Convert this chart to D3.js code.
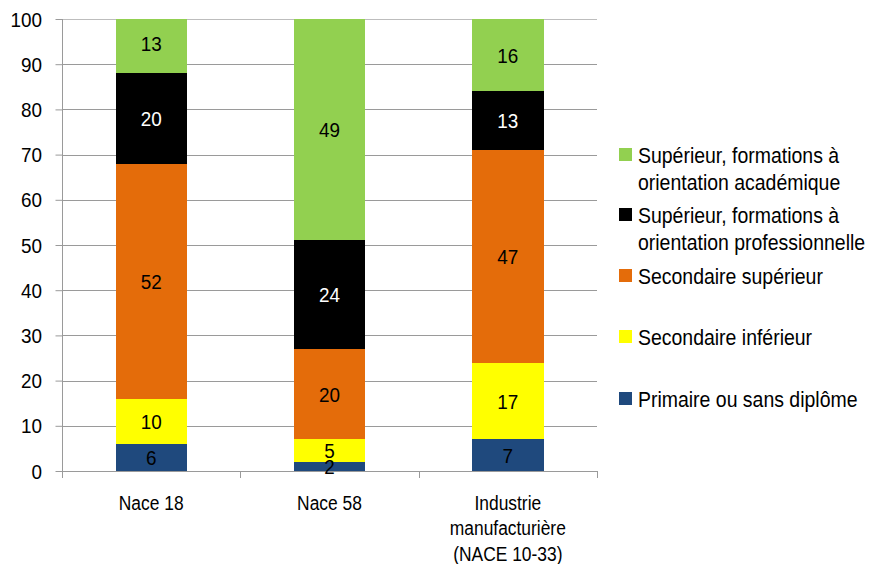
<!DOCTYPE html>
<html>
<head>
<meta charset="utf-8">
<script src="https://cdn.jsdelivr.net/npm/d3@7"></script>
<style>
  html, body { margin: 0; padding: 0; background: #fff; }
  svg text { font-family: "Liberation Sans Narrow", "Arial Narrow", "Liberation Sans", Arial, sans-serif; }
</style>
</head>
<body>
<svg id="chart" width="870" height="564"></svg>
<script>
// Categories (the long one wraps over three lines)
const categories = ["Nace 18", "Nace 58", "Industrie manufacturière (NACE 10-33)"];
const categoryLines = [["Nace 18"], ["Nace 58"], ["Industrie", "manufacturière", "(NACE 10-33)"]];

// Series, stacked from bottom to top
const seriesNames = [
  "Primaire ou sans diplôme",
  "Secondaire inférieur",
  "Secondaire supérieur",
  "Supérieur, formations à orientation professionnelle",
  "Supérieur, formations à orientation académique"
];
const primaire      = [6, 2, 7];
const secInferieur  = [10, 5, 17];
const secSuperieur  = [52, 20, 47];
const supPro        = [20, 24, 13];
const supAcad       = [13, 49, 16];
const seriesValues = [primaire, secInferieur, secSuperieur, supPro, supAcad];

const seriesColors = ["#1F497D", "#FFFF00", "#E46C0A", "#000000", "#92D050"];
const labelColors  = ["#000", "#000", "#000", "#fff", "#000"];

const yTicks = [0, 10, 20, 30, 40, 50, 60, 70, 80, 90, 100];

// Legend entries, top to bottom
const legendLines = [
  ["Supérieur, formations à", "orientation académique"],
  ["Supérieur, formations à", "orientation professionnelle"],
  ["Secondaire supérieur"],
  ["Secondaire inférieur"],
  ["Primaire ou sans diplôme"]
];
const legendSeries = [4, 3, 2, 1, 0];

const svg = d3.select("#chart");
const plot = { left: 62, right: 597, top: 19, bottom: 471 };
const GRID = "#9a9a9a";

// Condensed text: regular sans squeezed horizontally around its anchor point
function narrowText(parent, px, py, size, sx, anchor, color) {
  return parent.append("text")
    .attr("transform", `translate(${px},${py}) scale(${sx},1)`)
    .attr("x", 0).attr("y", 0)
    .attr("font-size", size)
    .attr("text-anchor", anchor)
    .attr("fill", color);
}

const x = d3.scaleBand()
  .domain(categories)
  .range([plot.left, plot.right])
  .paddingInner(0.6)
  .paddingOuter(0.3);

const y = d3.scaleLinear().domain([0, 100]).range([plot.bottom, plot.top]);

// Horizontal gridlines
svg.append("g")
  .selectAll("line")
  .data(yTicks.filter(d => d > 0))
  .join("line")
  .attr("x1", plot.left).attr("x2", plot.right)
  .attr("y1", d => Math.round(y(d)) + 0.5).attr("y2", d => Math.round(y(d)) + 0.5)
  .attr("stroke", d => d === 100 ? "#bdbdbd" : GRID)
  .attr("stroke-width", 1);

// Stacked layers
const rows = categories.map((c, i) => {
  const r = { cat: c };
  seriesValues.forEach((s, k) => r["s" + k] = s[i]);
  return r;
});
const stacked = d3.stack().keys(seriesValues.map((_, k) => "s" + k))(rows);

svg.append("defs").append("clipPath").attr("id", "plotClip")
  .append("rect")
  .attr("x", plot.left).attr("y", plot.top)
  .attr("width", plot.right - plot.left).attr("height", plot.bottom - plot.top);

const barsG = svg.append("g").attr("clip-path", "url(#plotClip)");
stacked.forEach((layer, k) => {
  barsG.append("g")
    .attr("fill", seriesColors[k])
    .selectAll("rect")
    .data(layer)
    .join("rect")
    .attr("x", d => x(d.data.cat))
    .attr("width", x.bandwidth())
    .attr("y", d => y(d[1]))
    .attr("height", d => y(d[0]) - y(d[1]))
    .attr("shape-rendering", "crispEdges");
});

// Y axis: line and tick marks from d3.axisLeft, labels condensed
const yAxis = d3.axisLeft(y).tickValues(yTicks).tickSize(7).tickFormat("");
const gy = svg.append("g").attr("transform", `translate(${plot.left + 0.5},0)`).call(yAxis);
gy.select(".domain").attr("stroke", GRID).attr("d", `M0,${plot.top}V${plot.bottom}`);
gy.selectAll(".tick line").attr("stroke", GRID);
gy.selectAll(".tick text").remove();
yTicks.forEach(v => {
  narrowText(svg, 42, y(v), 21, 0.9, "end", "#000").attr("dy", "0.36em").text(v);
});

// X axis line with ticks at category boundaries
const step = x.step();
const boundaries = d3.range(categories.length + 1).map(i => plot.left + i * step);
const gx = svg.append("g");
gx.append("line")
  .attr("x1", plot.left).attr("x2", plot.right)
  .attr("y1", plot.bottom + 0.5).attr("y2", plot.bottom + 0.5)
  .attr("stroke", GRID);
gx.selectAll("line.bt").data(boundaries).join("line")
  .attr("class", "bt")
  .attr("x1", d => Math.round(d) + 0.5).attr("x2", d => Math.round(d) + 0.5)
  .attr("y1", plot.bottom).attr("y2", plot.bottom + 7)
  .attr("stroke", GRID);

// Category labels
categories.forEach((c, i) => {
  const cx = x(c) + x.bandwidth() / 2;
  categoryLines[i].forEach((ln, j) => {
    narrowText(svg, cx, 509.5 + j * 25.5, 20, 0.87, "middle", "#000").text(ln);
  });
});

// Value labels centred in each segment
stacked.forEach((layer, k) => {
  layer.forEach(d => {
    narrowText(svg, x(d.data.cat) + x.bandwidth() / 2, y((d[0] + d[1]) / 2), 21, 0.9, "middle", labelColors[k])
      .attr("dy", "0.36em")
      .text(d[1] - d[0]);
  });
});

// Legend
const legendY = [155, 215, 276, 337, 399];
const lg = svg.append("g");
legendLines.forEach((lines, i) => {
  const s = legendSeries[i];
  lg.append("rect")
    .attr("x", 619).attr("y", legendY[i] - 7)
    .attr("width", 13).attr("height", 13)
    .attr("fill", seriesColors[s]);
  lines.forEach((ln, j) => {
    narrowText(lg, 638, legendY[i] + j * 27, 21.4, 0.91, "start", "#000")
      .attr("dy", "0.36em")
      .text(ln);
  });
});
</script>
</body>
</html>
